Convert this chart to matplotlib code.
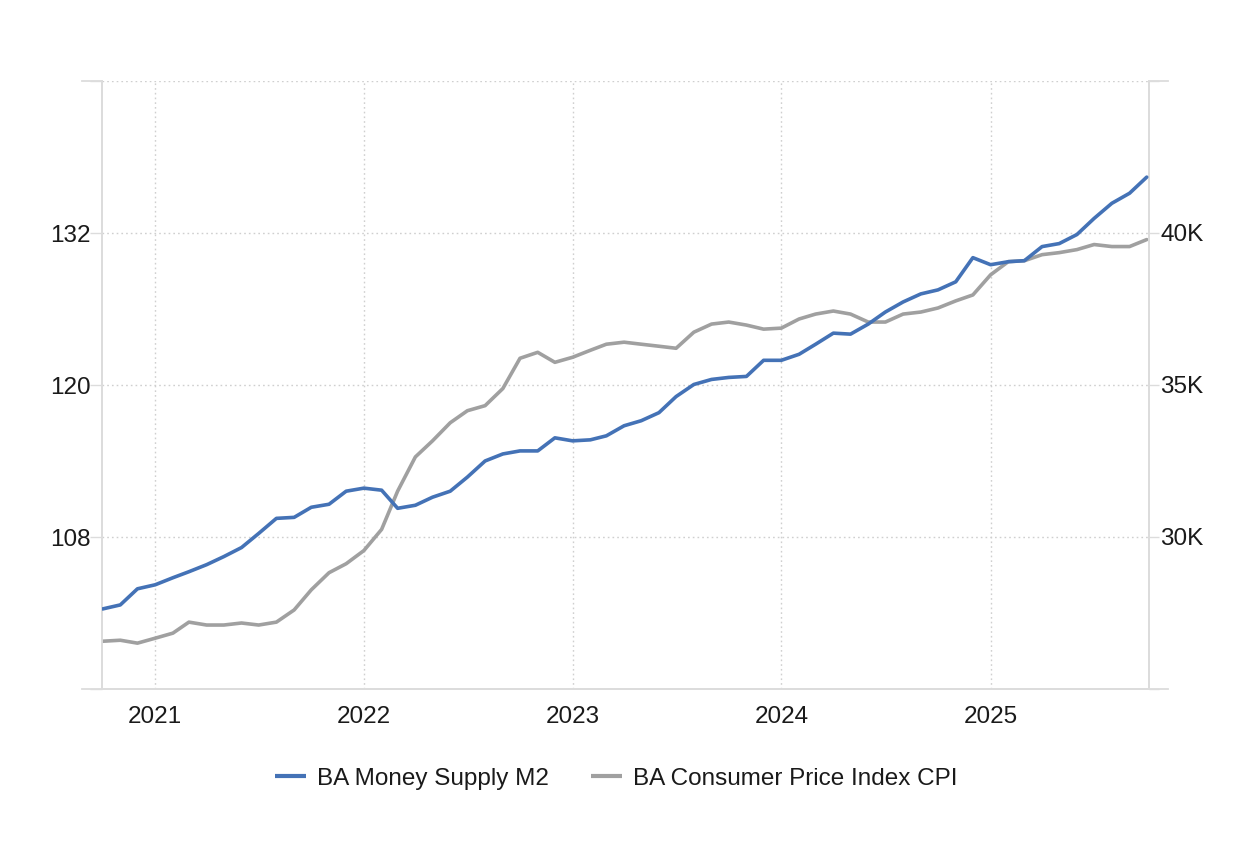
import matplotlib
matplotlib.use("Agg")
import matplotlib.pyplot as plt
from matplotlib.lines import Line2D
import pandas as pd

plt.rcParams['font.family'] = ['Liberation Sans', 'DejaVu Sans']

# Monthly observations, Oct 2020 .. Oct 2025
months = pd.date_range('2020-10-01', periods=61, freq='MS')

m2_money_supply = [
    27633, 27766, 28296, 28428, 28660, 28858, 29090, 29355, 29653, 30117,
    30613, 30646, 30978, 31077, 31507, 31607, 31540, 30944, 31044, 31309,
    31507, 31971, 32501, 32732, 32832, 32832, 33262, 33163, 33196, 33328,
    33659, 33825, 34090, 34620, 35017, 35183, 35249, 35282, 35812, 35812,
    36010, 36341, 36706, 36673, 37004, 37401, 37732, 37997, 38129, 38394,
    39189, 38957, 39056, 39089, 39553, 39652, 39950, 40480, 40977, 41308,
    41838,
]

cpi = [
    99.77, 99.85, 99.62, 100.01, 100.41, 101.28, 101.05, 101.05, 101.21, 101.05,
    101.28, 102.24, 103.83, 105.18, 105.89, 106.93, 108.60, 111.62, 114.32, 115.59,
    117.02, 117.97, 118.37, 119.72, 122.11, 122.58, 121.79, 122.19, 122.74, 123.22,
    123.38, 123.22, 123.06, 122.90, 124.17, 124.81, 124.97, 124.73, 124.41, 124.49,
    125.21, 125.60, 125.84, 125.60, 124.97, 124.97, 125.60, 125.76, 126.08, 126.64,
    127.11, 128.70, 129.74, 129.81, 130.29, 130.45, 130.69, 131.09, 130.93, 130.93,
    131.48,
]

left_ticks = [96, 108, 120, 132, 144]
left_labels = ['', '108', '120', '132', '']
right_ticks = [25000, 30000, 35000, 40000, 45000]
right_labels = ['', '30K', '35K', '40K', '']
year_ticks = pd.to_datetime(['2021-01-01', '2022-01-01', '2023-01-01', '2024-01-01', '2025-01-01'])
year_labels = ['2021', '2022', '2023', '2024', '2025']

series_names = ['BA Money Supply M2', 'BA Consumer Price Index CPI']
BLUE = '#4472b6'
GREY = '#a0a0a0'
AXIS = '#dcdcdc'
GRID = '#cfcfcf'
TEXT = '#1a1a1a'
FS = 17.5

W, H = 1235, 844
fig = plt.figure(figsize=(W / 100, H / 100), dpi=100)
L, R, T, B = 102, 1149, 81, 689
ax = fig.add_axes([L / W, 1 - B / H, (R - L) / W, (B - T) / H])
ax2 = ax.twinx()

ax.plot(months, cpi, color=GREY, lw=2.6, solid_joinstyle='round', solid_capstyle='round', zorder=3)
ax2.plot(months, m2_money_supply, color=BLUE, lw=2.6, solid_joinstyle='round', solid_capstyle='round', zorder=3)

ax.set_xlim(pd.Timestamp('2020-09-30'), pd.Timestamp('2025-10-05'))
ax.set_ylim(96, 144)
ax2.set_ylim(25000, 45000)

ax.set_yticks(left_ticks)
ax.set_yticklabels(left_labels)
ax2.set_yticks(right_ticks)
ax2.set_yticklabels(right_labels)
ax.set_xticks(year_ticks)
ax.set_xticklabels(year_labels)

ax.tick_params(axis='y', length=9, width=1, color=AXIS, labelsize=FS, labelcolor=TEXT, pad=-1)
ax2.tick_params(axis='y', length=7, width=1, color=AXIS, labelsize=FS, labelcolor=TEXT, pad=1)
ax.tick_params(axis='x', length=0, labelsize=FS, labelcolor=TEXT, pad=12)

ax.grid(True, which='major', axis='both', color=GRID, linestyle=(0, (1.2, 2.2)), linewidth=1.0)
ax.set_axisbelow(True)

for a in (ax, ax2):
    a.spines['top'].set_visible(False)
    for s in ('left', 'right', 'bottom'):
        a.spines[s].set_color(AXIS)
        a.spines[s].set_linewidth(1.3)
    a.patch.set_visible(False)

# extended axis lines (top-left tick, bottom line, top-right tick)
fig.add_artist(Line2D([82 / W, L / W], [1 - T / H, 1 - T / H], transform=fig.transFigure, color=AXIS, lw=1.3))
fig.add_artist(Line2D([82 / W, 1168 / W], [1 - B / H, 1 - B / H], transform=fig.transFigure, color=AXIS, lw=1.3))
fig.add_artist(Line2D([R / W, 1168 / W], [1 - T / H, 1 - T / H], transform=fig.transFigure, color=AXIS, lw=1.3))

handles = [Line2D([], [], color=BLUE, lw=3, solid_capstyle='butt'),
           Line2D([], [], color=GREY, lw=3, solid_capstyle='butt')]
fig.legend(handles, series_names, loc='center', bbox_to_anchor=(0.499, 1 - 779 / H), ncol=2,
           frameon=False, fontsize=FS, labelcolor=TEXT, handlelength=1.3, handletextpad=0.45,
           columnspacing=1.7)

fig.savefig('out.png', dpi=100, facecolor='white')
